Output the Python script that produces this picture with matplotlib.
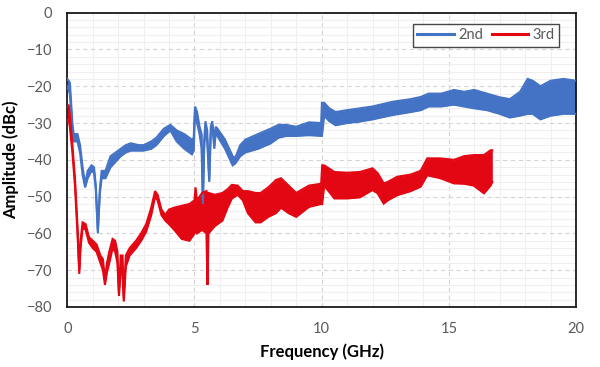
import matplotlib
matplotlib.use("Agg")
import matplotlib.pyplot as plt
from matplotlib.ticker import MultipleLocator

# ---- data: envelope of each (noisy) trace ----
freq_2nd = [0.0, 0.1, 0.2, 0.25, 0.4, 0.5, 0.6, 0.7, 0.8, 0.95, 1.05, 1.12, 1.2, 1.28, 1.35,
            1.5, 1.7, 1.9, 2.1, 2.3, 2.5, 2.8, 3.0, 3.3, 3.5, 3.8, 4.05, 4.3, 4.6, 4.9, 4.97,
            5.02, 5.1, 5.2, 5.28, 5.33, 5.38, 5.43, 5.5, 5.58, 5.64, 5.7, 5.78, 5.83, 5.9,
            6.2, 6.5, 6.6, 6.8, 7.0, 7.5, 8.0, 8.3, 8.6, 9.0, 9.5, 9.98, 10.01, 10.1, 10.3,
            10.55, 11.0, 11.5, 12.0, 12.8, 13.5, 13.9, 14.2, 14.7, 15.2, 15.6, 16.0, 16.5,
            17.0, 17.4, 17.8, 18.1, 18.3, 18.6, 19.0, 19.5, 20.0]
hi_2nd = [-18, -19, -30, -33, -33, -36, -42, -46.5, -43, -41.5, -42, -47, -59, -48, -43,
          -43, -39, -38, -37, -36, -35.5, -36, -36, -35, -34, -31.5, -30.5, -32, -33, -34.5, -34,
          -25.5, -27, -31, -33, -51.5, -35, -29.5, -32, -45.5, -31, -29.5, -35, -31, -31.5,
          -34.5, -39, -39.5, -36, -34.5, -33, -31.5, -30.5, -30.5, -31, -29.8, -30, -24.5, -24.5, -26,
          -27, -26.5, -26, -25.5, -24.2, -23.5, -22.9, -22, -22, -21, -21.5, -21, -22,
          -23, -23.5, -21.5, -18, -18.5, -20, -18.5, -18, -18.5]
lo_2nd = [-20, -22, -33, -35, -35, -38, -44, -47.5, -45, -43, -43.5, -48, -60, -49, -45,
          -45, -42, -40.5, -39, -38, -37.5, -37.5, -37.5, -37, -36, -33.5, -32, -35, -37, -38.5, -37.5,
          -27, -30, -33, -37, -52, -37, -31, -35, -46, -33, -31, -37, -33, -33.5,
          -37, -41.5, -41, -39, -38, -37, -35.5, -34, -33.5, -33.5, -33.3, -33.5, -33.5, -28, -29.5,
          -30.6, -30, -29.6, -29, -27.8, -27, -26.5, -25.5, -25.5, -25, -25.5, -26, -26.5,
          -27.5, -28.5, -28, -27.5, -27.5, -29, -28, -27.5, -27.5]

freq_3rd = [0.0, 0.05, 0.1, 0.2, 0.3, 0.4, 0.47, 0.52, 0.6, 0.72, 0.85, 1.0, 1.15, 1.3, 1.4,
            1.48, 1.56, 1.65, 1.78, 1.88, 1.97, 2.03, 2.1, 2.17, 2.22, 2.3, 2.45, 2.7, 2.9,
            3.1, 3.3, 3.45, 3.55, 3.7, 3.85, 4.0, 4.2, 4.5, 4.8, 5.0, 5.04, 5.1, 5.3, 5.47,
            5.51, 5.55, 5.8, 6.1, 6.3, 6.47, 6.7, 6.9, 7.1, 7.4, 7.6, 7.9, 8.2, 8.4, 8.7,
            9.0, 9.5, 9.98, 10.02, 10.1, 10.5, 11.0, 11.5, 12.0, 12.2, 12.44, 12.6, 12.97,
            13.5, 13.89, 14.15, 14.67, 15.2, 15.6, 15.98, 16.38, 16.64, 16.71]
hi_3rd = [-25.5, -25, -28, -36, -45, -58, -70, -62, -57, -57.5, -61, -62, -63, -66, -67,
          -72.5, -68, -65, -61.5, -62, -65, -76, -66, -66, -77.5, -66, -64, -62, -60,
          -57.5, -53, -48.5, -49.5, -53.5, -55, -53.5, -53, -52.5, -52, -51, -47.5, -51, -49, -48.5,
          -50, -49, -49.5, -49, -48, -46.8, -47, -48.5, -48.5, -49, -49, -47.5, -45.5, -45, -47,
          -49, -47, -46.5, -41.5, -41.5, -43.3, -43.5, -43.3, -42.3, -43.6, -46.4, -46, -44.6,
          -44, -43, -39.6, -39.6, -40, -39, -38.7, -38.7, -37.4, -37.4]
lo_3rd = [-29.5, -29, -31, -38, -47, -60, -71, -64, -58.5, -59, -62.5, -64, -65, -68, -70,
          -74, -70.5, -68, -64, -65, -68, -77, -70, -71, -78.5, -69, -66, -64, -62,
          -59.5, -55, -50, -51, -55, -56.5, -57.5, -59, -61.5, -62, -60, -59, -60, -59, -60,
          -74, -60, -58, -56.5, -53, -50.5, -49.5, -51, -54.5, -57, -57, -55.5, -54.5, -53, -54.5,
          -55.5, -52.8, -52, -52, -47, -50.5, -50.5, -50.2, -48.2, -49.1, -51.9, -51, -49.6,
          -48.5, -47.3, -44.2, -45, -46.4, -46.5, -47, -49.1, -47, -46]

series_names = ["2nd", "3rd"]
x_ticks = [0, 5, 10, 15, 20]
y_ticks = [0, -10, -20, -30, -40, -50, -60, -70, -80]

BLUE = "#4472C4"
RED = "#E30613"

plt.rcParams['font.family'] = ['Lato', 'DejaVu Sans']

fig = plt.figure(figsize=(6.0, 3.67), dpi=100)
ax = fig.add_axes([0.1122, 0.1635, 0.8478, 0.8019])

# grids
ax.xaxis.set_minor_locator(MultipleLocator(1))
ax.yaxis.set_minor_locator(MultipleLocator(2))
ax.grid(which='minor', color='#efefef', linewidth=0.8, linestyle='-', zorder=0)
ax.grid(which='major', color='#d4d4d4', linewidth=0.8, linestyle=(0, (4, 3)), zorder=0)
ax.set_axisbelow(True)

for f, hi, lo, c, name in [(freq_2nd, hi_2nd, lo_2nd, BLUE, series_names[0]),
                           (freq_3rd, hi_3rd, lo_3rd, RED, series_names[1])]:
    ax.fill_between(f, lo, hi, color=c, linewidth=0, zorder=2)
    ax.plot(f, hi, color=c, linewidth=1.5, zorder=3, solid_joinstyle='miter')
    ax.plot(f, lo, color=c, linewidth=1.5, zorder=3, solid_joinstyle='miter')
    ax.plot([], [], color=c, linewidth=2.2, label=name)

ax.set_xlim(0, 20)
ax.set_ylim(-80, 0)
ax.set_xticks(x_ticks)
ax.set_yticks(y_ticks)
ax.tick_params(which='both', length=0)
ax.tick_params(axis='y', pad=11, labelsize=10.5, labelcolor='#595959')
ax.tick_params(axis='x', pad=11, labelsize=10.5, labelcolor='#595959')

for s in ax.spines.values():
    s.set_color('#1a1a1a')
    s.set_linewidth(1.3)

ax.set_xlabel("Frequency (GHz)", fontsize=12, fontweight='bold', labelpad=5)
ax.set_ylabel("Amplitude (dBc)", fontsize=12, fontweight='bold', labelpad=5)

leg = ax.legend(loc='upper right', bbox_to_anchor=(0.9666, 0.9616), borderaxespad=0,
                ncol=2, fontsize=10.5, frameon=True, fancybox=False, handlelength=2.5,
                handletextpad=0.3, columnspacing=0.6, borderpad=0.3)
leg.get_frame().set_edgecolor('#1a1a1a')
leg.get_frame().set_linewidth(1.0)
for t in leg.get_texts():
    t.set_color('#595959')

fig.savefig("out.png", dpi=100)
